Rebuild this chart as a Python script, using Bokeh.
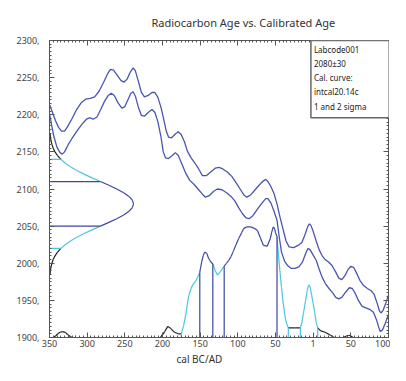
import numpy as np
from bokeh.plotting import figure
from bokeh.models import FixedTicker, LinearAxis, Range1d, Label, Title
from bokeh.embed import file_html
from bokeh.resources import INLINE

# ---------------- data ----------------
# calibration curve envelope (calendar year, BC negative; radiocarbon age BP)
upper_x = [-350, -346, -342, -338, -334, -330, -326, -320, -314, -308, -302, -296, -290, -284,
           -278, -273, -269, -265, -260, -255, -251, -247, -243, -239, -236, -232, -228, -224,
           -219, -214, -210, -206, -202, -198, -195, -192, -188, -183, -179, -175, -171, -167,
           -162, -157, -152, -147, -142, -136, -130, -125, -120, -114, -108, -102, -97, -92,
           -88, -83, -77, -71, -66, -63, -60, -56, -52, -48, -44, -40, -36, -32, -26, -20, -15,
           -11, -7, -5, -3, 0, 4, 8, 12, 16, 20, 25, 30, 34, 38, 42, 46, 50, 54, 58, 62, 67,
           72, 77, 81, 85, 88, 90, 93, 97, 100]
upper_y = [2214, 2203, 2192, 2183, 2178, 2178, 2184, 2195, 2207, 2216, 2221, 2222, 2224, 2232,
           2244, 2255, 2261, 2260, 2253, 2246, 2244, 2248, 2257, 2263, 2259, 2245, 2230, 2224,
           2226, 2230, 2230, 2223, 2210, 2192, 2178, 2170, 2169, 2174, 2177, 2173, 2164, 2151,
           2142, 2135, 2127, 2118, 2118, 2123, 2128, 2129, 2127, 2123, 2117, 2108, 2100, 2092,
           2089, 2092, 2099, 2106, 2111, 2113, 2110, 2103, 2094, 2080, 2062, 2046, 2030, 2022,
           2021, 2024, 2028, 2038, 2050, 2053, 2051, 2043, 2030, 2018, 2010, 2005, 2002, 1997,
           1988, 1980, 1978, 1983, 1991, 1996, 1994, 1986, 1977, 1970, 1966, 1963, 1958, 1946,
           1936, 1933, 1937, 1948, 1957]
lower_x = [-350, -347, -344, -340, -336, -333, -330, -325, -319, -313, -307, -301, -296, -292,
           -287, -282, -277, -272, -268, -264, -259, -254, -250, -246, -242, -239, -236, -232,
           -228, -224, -219, -214, -210, -206, -202, -199, -196, -192, -187, -183, -179, -174,
           -169, -164, -158, -152, -147, -143, -138, -132, -127, -121, -115, -109, -104, -99,
           -94, -89, -85, -80, -74, -68, -63, -60, -56, -52, -48, -45, -42, -38, -34, -29, -24,
           -19, -14, -10, -7, -4, 0, 4, 8, 12, 16, 21, 26, 30, 34, 38, 43, 48, 52, 56, 60, 65,
           70, 75, 80, 84, 87, 89, 92, 96, 100]
lower_y = [2202, 2185, 2170, 2156, 2149, 2147, 2150, 2160, 2170, 2179, 2187, 2194, 2196, 2194,
           2197, 2207, 2218, 2226, 2229, 2226, 2216, 2209, 2211, 2220, 2229, 2231, 2225, 2210,
           2199, 2198, 2203, 2207, 2203, 2190, 2170, 2150, 2142, 2141, 2145, 2149, 2145, 2133,
           2121, 2112, 2106, 2099, 2093, 2089, 2091, 2097, 2100, 2099, 2095, 2090, 2084, 2075,
           2067, 2061, 2060, 2064, 2073, 2081, 2087, 2087, 2081, 2070, 2058, 2035, 2015, 2003,
           1997, 1993, 1993, 1995, 2002, 2013, 2020, 2018, 2011, 2004, 1992, 1981, 1973, 1966,
           1960, 1954, 1952, 1954, 1961, 1967, 1966, 1959, 1950, 1942, 1940, 1938, 1934, 1924,
           1914, 1908, 1910, 1920, 1931]

# measurement: radiocarbon age and error
lab_code = "Labcode001"
c14_age = 2080
c14_err = 30
curve_name = "intcal20.14c"
# probability of the measurement (drawn sideways on the age axis, in axis years)
gauss_age = [1985, 1990, 1995, 2000, 2005, 2010, 2015, 2020, 2025, 2030, 2035, 2040, 2045,
             2050, 2055, 2060, 2065, 2070, 2075, 2080, 2085, 2090, 2095, 2100, 2105, 2110,
             2115, 2120, 2125, 2130, 2135, 2140, 2145, 2150, 2155, 2160, 2165, 2170, 2175]
gauss_w = [0.7, 1.2, 2.0, 3.2, 4.9, 7.3, 10.7, 15.1, 20.8, 27.8, 36.2, 45.8, 56.5,
           67.6, 78.8, 89.3, 98.4, 105.5, 110.0, 111.5, 110.0, 105.5, 98.4, 89.3, 78.8, 67.6,
           56.5, 45.8, 36.2, 27.8, 20.8, 15.1, 10.7, 7.3, 4.9, 3.2, 2.0, 1.2, 0.7]

# calibrated probability (height above the base of the age axis)
dist_x = [-350, -345, -342, -339, -336, -333, -329, -326, -322, -319, -203, -200, -197, -193,
          -189, -184, -179, -175, -172, -169, -167, -165, -162, -160, -156, -152, -150.5, -148,
          -146, -144, -141, -139, -136, -133.2, -130, -127, -123, -118.1, -115, -112, -109,
          -106, -102, -99, -95, -92, -88, -83, -78, -74, -70, -66, -61, -57, -55, -53, -51, -50,
          -48, -46, -44, -42, -40, -37, -35, -33, -25, -17, -15, -13, -10, -8, -6, -4, -2, 0, 2,
          4, 6, 10, 16, 23, 28, 40, 44, 47, 50, 53, 100]
dist_h = [0, 0, 2, 5, 7, 8, 7, 4, 1, 0, 0, 4, 8, 15,
          12, 7, 5, 5, 16, 31, 45, 57, 66, 71, 76, 84, 88, 102,
          110, 115, 113, 107, 102, 99, 90, 84, 89, 96, 100, 104, 109,
          116, 126, 133, 141, 147, 149, 149, 147, 144, 134, 124, 123, 133, 142, 149, 146, 141,
          136, 110, 88, 67, 48, 26, 18, 13, 13, 13, 20, 32, 50, 63, 71, 68, 57, 46, 34,
          20, 13, 9, 7, 3, 0, 0, 2, 3, 2, 0, 0]

sigma1_ranges = [(-150.5, -133.2), (-118.1, -48)]
sigma2_ranges = [(-175, -33), (-17, 6)]

x_ticks = [-350, -300, -250, -200, -150, -100, -50, 0, 50, 100]
x_tick_labels = ["350", "300", "250", "200", "150", "100", "50", "1", "50", "100"]
y_ticks = [1900, 1950, 2000, 2050, 2100, 2150, 2200, 2250, 2300]
y_tick_labels = ["1900,", "1950,", "2000,", "2050,", "2100,", "2150,", "2200,", "2250,", "2300,"]

# ---------------- styling ----------------
DARK = "#3d47a0"
CURVE = "#4a55b0"
CYAN = "#4cc6e0"
BLACK = "#222222"
AXIS = "#555555"
FONT = "Noto Sans"

x0, x1 = -350, 100
y0, y1 = 1900, 2300

p = figure(width=390, height=365, x_range=Range1d(x0, x1), y_range=Range1d(y0, y1),
           output_backend="svg", toolbar_location=None,
           min_border_left=49, min_border_right=2, min_border_top=40, min_border_bottom=25)
p.grid.visible = False
p.outline_line_color = AXIS
p.background_fill_color = "white"
p.border_fill_color = "white"

p.title.text = "Radiocarbon Age vs. Calibrated Age"
p.title.align = "left"
p.title.offset = 102
p.title.standoff = 21
p.title.text_font = FONT
p.title.text_font_size = "11px"
p.title.text_font_style = "normal"
p.title.text_color = "#333333"

xt = FixedTicker(ticks=x_ticks, minor_ticks=list(range(-350, 101, 5)))
yt = FixedTicker(ticks=y_ticks, minor_ticks=list(range(1900, 2301, 5)))


def style(ax, ticker, labels):
    ax.ticker = ticker
    ax.major_tick_in = 5
    ax.major_tick_out = 0
    ax.minor_tick_in = 2
    ax.minor_tick_out = 0
    ax.axis_line_color = AXIS
    ax.major_tick_line_color = AXIS
    ax.minor_tick_line_color = AXIS
    ax.major_label_text_font = FONT
    ax.major_label_text_font_size = "9px"
    ax.major_label_text_color = "#444444"
    if labels is None:
        ax.major_label_text_color = None
        ax.major_label_text_font_size = "0px"
        ax.major_label_standoff = 0
    else:
        ax.major_label_overrides = labels


style(p.xaxis[0], xt, dict(zip(x_ticks, x_tick_labels)))
p.xaxis[0].major_label_standoff = 2
style(p.yaxis[0], yt, dict(zip(y_ticks, y_tick_labels)))
p.yaxis[0].major_label_standoff = 10

top_ax = LinearAxis()
style(top_ax, xt, None)
p.add_layout(top_ax, "above")
right_ax = LinearAxis()
style(right_ax, yt, None)
p.add_layout(right_ax, "right")

p.add_layout(Title(text="cal BC/AD", align="left", offset=127, standoff=0, text_font=FONT,
                   text_font_size="10px", text_font_style="normal", text_color="#333333"),
             "below")

# calibration curve
p.line(upper_x, upper_y, line_color=CURVE, line_width=1.3)
p.line(lower_x, lower_y, line_color=CURVE, line_width=1.3)


def in_ranges(v, ranges):
    return any(a <= v <= b for a, b in ranges)


# calibrated distribution, coloured by range
segs_x, segs_y, segs_c = [], [], []
for i in range(len(dist_x) - 1):
    mid = 0.5 * (dist_x[i] + dist_x[i + 1])
    if in_ranges(mid, sigma1_ranges):
        c = DARK
    elif in_ranges(mid, sigma2_ranges):
        c = CYAN
    else:
        c = BLACK
    segs_x.append([dist_x[i], dist_x[i + 1]])
    segs_y.append([y0 + dist_h[i], y0 + dist_h[i + 1]])
    segs_c.append(c)
p.multi_line(segs_x, segs_y, line_color=segs_c, line_width=1.2)

for a, b in sigma1_ranges:
    for v in (a, b):
        p.line([v, v], [y0, y0 + float(np.interp(v, dist_x, dist_h))], line_color=DARK, line_width=1.2)
for a, b in sigma2_ranges:
    for v in (a, b):
        p.line([v, v], [y0, y0 + float(np.interp(v, dist_x, dist_h))], line_color=CYAN, line_width=1.2)

# measurement distribution on the radiocarbon axis
gx, gy, gc = [], [], []
for i in range(len(gauss_age) - 1):
    mid = 0.5 * (gauss_age[i] + gauss_age[i + 1])
    d = abs(mid - c14_age)
    c = DARK if d <= c14_err else (CYAN if d <= 2 * c14_err else BLACK)
    gx.append([x0 + gauss_w[i], x0 + gauss_w[i + 1]])
    gy.append([gauss_age[i], gauss_age[i + 1]])
    gc.append(c)
p.multi_line(gx, gy, line_color=gc, line_width=1.2)
for k, col in ((1, DARK), (2, CYAN)):
    for s in (-1, 1):
        a = c14_age + s * k * c14_err
        p.line([x0, x0 + float(np.interp(a, gauss_age, gauss_w))], [a, a], line_color=col, line_width=1.2)

# info box
info = Label(x=-3, y=y1, text=f"{lab_code}\n{c14_age}±{c14_err}\nCal. curve:\n{curve_name}\n1 and 2 sigma",
             anchor="top_left", text_font=FONT, text_font_size="8px", text_line_height=1.3,
             text_color="#222222", border_line_color="#666666", border_line_width=1.5,
             background_fill_color="white", padding=(3, 25, 3, 6))
p.add_layout(info)

open("out.html", "w").write(file_html(p, INLINE))
